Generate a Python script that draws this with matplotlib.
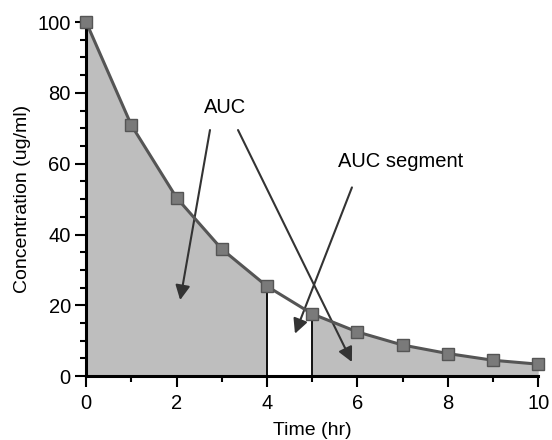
import numpy as np
import matplotlib
matplotlib.use("Agg")
import matplotlib.pyplot as plt
from matplotlib.ticker import MultipleLocator

# -------------------------------
# Data
# -------------------------------
time_hr = [0, 1, 2, 3, 4, 5, 6, 7, 8, 9, 10]
conc = [100, 70.9, 50.4, 35.9, 25.4, 17.6, 12.5, 8.8, 6.4, 4.5, 3.4]
gap_start, gap_end = 4, 5   # the white "AUC segment"

plt.rcParams['font.family'] = ['Liberation Sans', 'DejaVu Sans']

fig = plt.figure(figsize=(5.52, 4.4), dpi=100)
ax = fig.add_axes([0.156, 0.145, 0.819, 0.805])

t = np.array(time_hr)
c = np.array(conc)

# shaded area under the curve, leaving the 4-5 hr slice white
ax.fill_between(t, 0, c, where=(t <= gap_start), color='#bebebe', lw=0)
ax.fill_between(t, 0, c, where=(t >= gap_end), color='#bebebe', lw=0)
for x in (gap_start, gap_end):
    ax.plot([x, x], [0, c[time_hr.index(x)]], color='black', lw=1.3)

ax.plot(t, c, color='#555555', lw=2.2, marker='s', markersize=8,
        markerfacecolor='#7a7a7a', markeredgecolor='#555555', clip_on=False, zorder=5)

# annotations
arrow = dict(arrowstyle='-|>', color='#333333', lw=1.5, mutation_scale=22, shrinkA=0, shrinkB=0)
ax.text(3.07, 76, 'AUC', ha='center', va='center', fontsize=14.5)
ax.annotate('', xy=(2.08, 21.5), xytext=(2.74, 69.5), arrowprops=arrow)
ax.annotate('', xy=(5.88, 4.0), xytext=(3.36, 69.5), arrowprops=arrow)
ax.text(6.95, 60.5, 'AUC segment', ha='center', va='center', fontsize=14.5)
ax.annotate('', xy=(4.62, 12.0), xytext=(5.88, 53.3), arrowprops=arrow)

# axes styling
ax.set_xlim(0, 10)
ax.set_ylim(0, 100)
ax.xaxis.set_major_locator(MultipleLocator(2))
ax.xaxis.set_minor_locator(MultipleLocator(1))
ax.yaxis.set_major_locator(MultipleLocator(20))
ax.yaxis.set_minor_locator(MultipleLocator(5))
for s in ('top', 'right'):
    ax.spines[s].set_visible(False)
for s in ('left', 'bottom'):
    ax.spines[s].set_linewidth(2.2)
ax.tick_params(which='major', length=8, width=1.5, labelsize=14.5, pad=3)
ax.tick_params(axis='x', which='major', pad=5)
ax.tick_params(which='minor', length=4, width=1.5)

ax.set_xlabel('Time (hr)', fontsize=14, labelpad=6)
ax.set_ylabel('Concentration (ug/ml)', fontsize=14, labelpad=5)

fig.savefig('out.png', dpi=100)
